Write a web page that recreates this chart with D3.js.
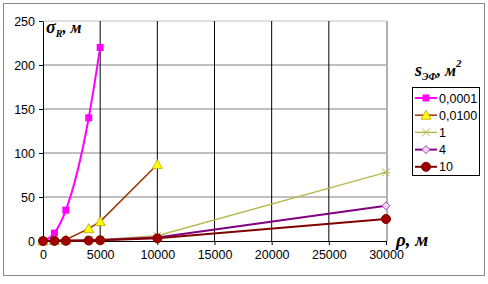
<!DOCTYPE html>
<html>
<head>
<meta charset="utf-8">
<script src="https://cdn.jsdelivr.net/npm/d3@7"></script>
<style>
  body { margin: 0; background: #fff; }
  .serif { font-family: "Liberation Serif", "Times New Roman", serif; font-style: italic; font-weight: bold; }
  .sans { font-family: "Liberation Sans", Arial, sans-serif; }
</style>
</head>
<body>
<svg id="chart" width="488" height="284"></svg>
<script>
// distances, m
const distances = [0, 1000, 2000, 4000, 5000, 10000, 30000];
// sigma_R values per effective area
const s0001 = [0, 9, 35, 140, 220];
const s0100 = [0, 0.5, 1.5, 14, 22, 87];
const s1 = [0, 0.1, 0.3, 1, 1.5, 6, 78];
const s4 = [0, 0.1, 0.2, 0.6, 1, 4, 40];
const s10 = [0, 0.1, 0.2, 0.5, 0.8, 3, 25];
const seriesNames = ["0,0001", "0,0100", "1", "4", "10"];
const xTicks = [0, 5000, 10000, 15000, 20000, 25000, 30000];
const yTicks = [0, 50, 100, 150, 200, 250];

const styles = [
  { line: "#ff00ff", marker: "square", fill: "#ff00ff", stroke: "#ff00ff", w: 2, smooth: true },
  { line: "#993300", marker: "triangle", fill: "#ffff00", stroke: "#c8a000", w: 1.5 },
  { line: "#b8b850", marker: "cross", fill: "none", stroke: "#b8b850", w: 1.5 },
  { line: "#800080", marker: "diamond", fill: "#f0d8f8", stroke: "#b040c0", w: 2 },
  { line: "#800000", marker: "circle", fill: "#a00000", stroke: "#800000", w: 2 }
];

const allSeries = [s0001, s0100, s1, s4, s10].map((vals, i) => ({
  name: seriesNames[i],
  style: styles[i],
  points: vals.map((v, j) => ({ x: distances[j], y: v }))
}));

const svg = d3.select("#chart");

// outer frame
svg.append("rect")
  .attr("x", 3.5).attr("y", 3.5)
  .attr("width", 481).attr("height", 272)
  .attr("fill", "#fff").attr("stroke", "#888");

const x = d3.scaleLinear().domain([0, 30000]).range([43, 386]);
const y = d3.scaleLinear().domain([0, 250]).range([241, 21]);

// gridlines
svg.append("g").selectAll("line")
  .data(yTicks.slice(1))
  .enter().append("line")
  .attr("x1", x(0)).attr("x2", x(30000))
  .attr("y1", d => y(d)).attr("y2", d => y(d))
  .attr("stroke", d => d === 250 ? "#c0c0c0" : "#808080")
  .attr("stroke-width", 1);

svg.append("g").selectAll("line")
  .data(xTicks.slice(1, -1))
  .enter().append("line")
  .attr("x1", d => x(d)).attr("x2", d => x(d))
  .attr("y1", y(0)).attr("y2", y(250))
  .attr("stroke", "#000").attr("stroke-width", 1);

// right border of plot area
svg.append("line")
  .attr("x1", x(30000) + 1).attr("x2", x(30000) + 1)
  .attr("y1", y(0)).attr("y2", y(250))
  .attr("stroke", "#b0b0b0").attr("stroke-width", 2);

// axes
const yAxis = svg.append("g")
  .attr("transform", `translate(${x(0)},0)`)
  .call(d3.axisLeft(y).tickValues(yTicks).tickSize(4).tickSizeOuter(0));
const xAxis = svg.append("g")
  .attr("transform", `translate(0,${y(0)})`)
  .call(d3.axisBottom(x).tickValues(xTicks).tickFormat(d3.format("d")).tickSize(4).tickSizeOuter(0));

[xAxis, yAxis].forEach(a => {
  a.select(".domain").attr("stroke", "#000");
  a.selectAll(".tick line").attr("stroke", "#000");
  a.selectAll("text")
    .attr("font-family", "Liberation Sans, Arial, sans-serif")
    .attr("font-size", 12.5)
    .attr("fill", "#000");
});
yAxis.selectAll("text").attr("x", -8);
xAxis.selectAll("text").attr("y", 9);

// markers
function drawMarker(g, type, cx, cy, st) {
  if (type === "square") {
    g.append("rect").attr("x", cx - 3.5).attr("y", cy - 3.5).attr("width", 7).attr("height", 7)
      .attr("fill", st.fill);
  } else if (type === "triangle") {
    g.append("path").attr("d", `M${cx},${cy - 5}L${cx + 5},${cy + 4}L${cx - 5},${cy + 4}Z`)
      .attr("fill", st.fill).attr("stroke", st.stroke).attr("stroke-width", 0.8);
  } else if (type === "cross") {
    g.append("path").attr("d", `M${cx - 4},${cy - 4}L${cx + 4},${cy + 4}M${cx - 4},${cy + 4}L${cx + 4},${cy - 4}M${cx - 4},${cy}L${cx + 4},${cy}`)
      .attr("stroke", st.stroke).attr("stroke-width", 1).attr("fill", "none");
  } else if (type === "diamond") {
    g.append("path").attr("d", `M${cx},${cy - 4}L${cx + 4},${cy}L${cx},${cy + 4}L${cx - 4},${cy}Z`)
      .attr("fill", st.fill).attr("stroke", st.stroke).attr("stroke-width", 1);
  } else if (type === "circle") {
    g.append("circle").attr("cx", cx).attr("cy", cy).attr("r", 4.5)
      .attr("fill", st.fill).attr("stroke", st.stroke);
  }
}

allSeries.forEach(s => {
  const line = d3.line()
    .x(d => x(d.x))
    .y(d => y(d.y))
    .curve(s.style.smooth ? d3.curveMonotoneX : d3.curveLinear);
  const g = svg.append("g");
  g.append("path")
    .datum(s.points)
    .attr("fill", "none")
    .attr("stroke", s.style.line)
    .attr("stroke-width", s.style.w)
    .attr("d", line);
  s.points.forEach(p => drawMarker(g, s.style.marker, x(p.x), y(p.y), s.style));
});

// axis titles
const sigma = svg.append("text")
  .attr("class", "serif")
  .attr("x", 46).attr("y", 33)
  .attr("font-size", 18);
sigma.append("tspan").text("σ");
sigma.append("tspan").attr("font-size", 10).attr("dy", 4).text("R");
sigma.append("tspan").attr("dy", -4).attr("font-size", 16).text(", м");

svg.append("text")
  .attr("class", "serif")
  .attr("x", 396).attr("y", 246)
  .attr("font-size", 19)
  .text("ρ, м");

// legend
const leg = svg.append("g");
const lt = leg.append("text")
  .attr("class", "serif")
  .attr("x", 415).attr("y", 76)
  .attr("font-size", 18);
lt.append("tspan").text("s");
lt.append("tspan").attr("font-size", 10).attr("dy", 4).text("ЭФ");
lt.append("tspan").attr("dy", -4).attr("font-size", 16).text(", м");
lt.append("tspan").attr("dy", -9).attr("font-size", 11).text("2");

leg.append("rect")
  .attr("x", 412.5).attr("y", 87.5)
  .attr("width", 67).attr("height", 88)
  .attr("fill", "#fff").attr("stroke", "#000");

allSeries.forEach((s, i) => {
  const cy = 98 + i * 17.2;
  leg.append("line")
    .attr("x1", 415).attr("x2", 437)
    .attr("y1", cy).attr("y2", cy)
    .attr("stroke", s.style.line).attr("stroke-width", s.style.w);
  drawMarker(leg, s.style.marker, 426, cy, s.style);
  leg.append("text")
    .attr("class", "sans")
    .attr("x", 439).attr("y", cy + 4.5)
    .attr("font-size", 12.5)
    .attr("fill", "#000")
    .text(s.name);
});
</script>
</body>
</html>
